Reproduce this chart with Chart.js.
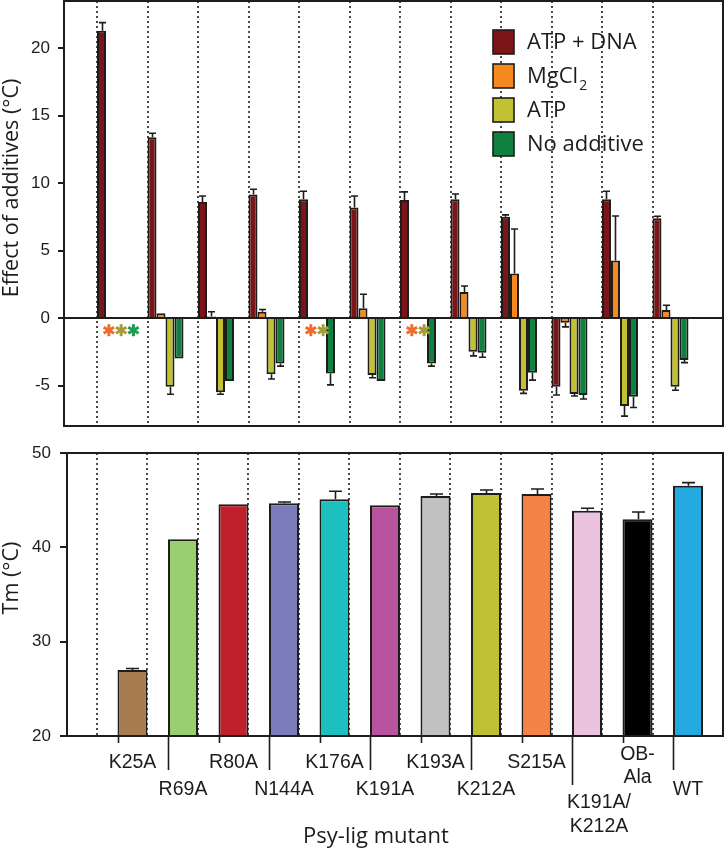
<!DOCTYPE html>
<html><head><meta charset="utf-8">
<script src="https://cdn.jsdelivr.net/npm/chart.js@4.4.1/dist/chart.umd.min.js"></script>
<style>
html,body{margin:0;padding:0;background:#fff;}
#wrap{position:relative;width:724px;height:851px;overflow:hidden;}
#c1{position:absolute;left:0;top:0;}
#c2{position:absolute;left:0;top:430px;}
</style></head><body>
<div id="wrap"><canvas id="c1" width="724" height="430"></canvas><canvas id="c2" width="724" height="421"></canvas></div>
<script>
// ---------- data ----------
const categories = ['K25A','R69A','R80A','N144A','K176A','K191A','K193A','K212A','S215A','K191A/K212A','OB-Ala','WT'];
const categoryLines = [['K25A'],['R69A'],['R80A'],['N144A'],['K176A'],['K191A'],['K193A'],['K212A'],['S215A'],['K191A/','K212A'],['OB-','Ala'],['WT']];
const seriesNames = ['ATP + DNA','MgCl\u2082','ATP','No additive'];

const atpDna     = [21.3, 13.4, 8.6, 9.15, 8.8, 8.2, 8.75, 8.8, 7.5, -5.1, 8.8, 7.4];
const atpDnaErr  = [0.6, 0.3, 0.45, 0.4, 0.6, 0.85, 0.6, 0.4, 0.15, 0.6, 0.6, 0.15];
const mgcl2      = [null, 0.35, 0.12, 0.47, null, 0.72, null, 1.93, 3.3, -0.35, 4.27, 0.6];
const mgcl2Err   = [0, 0, 0.35, 0.17, 0, 1.05, 0, 0.45, 3.3, 0.3, 3.3, 0.35];
const atp        = [null, -5.1, -5.5, -4.17, null, -4.22, null, -2.5, -5.38, -5.63, -6.52, -5.1];
const atpErr     = [0, 0.55, 0.15, 0.35, 0, 0.2, 0, 0.3, 0.2, 0.15, 0.75, 0.25];
const noAdd      = [null, -3.0, -4.67, -3.36, -4.1, -4.67, -3.36, -2.57, -4.05, -5.7, -5.83, -3.1];
const noAddErr   = [0, 0, 0, 0.2, 0.85, 0, 0.2, 0.33, 0.55, 0.3, 0.8, 0.2];
// [category index, series index] with no measurable value (asterisk)
const noDataMarks = [[0,1],[0,2],[0,3],[4,1],[4,2],[6,1],[6,2]];

const tm    = [27.0, 40.85, 44.56, 44.67, 45.1, 44.46, 45.45, 45.76, 45.66, 43.89, 42.97, 46.54];
const tmErr = [0.15, 0, 0, 0.14, 0.84, 0, 0.2, 0.32, 0.53, 0.25, 0.78, 0.32];

const effectTicks = [-5, 0, 5, 10, 15, 20];
const tmTicks = [20, 30, 40, 50];

// ---------- styles ----------
const ink = '#1d1d1b';
const seriesColors = ['#7c1518', '#f6891f', '#c1c133', '#0e8140'];
const markColors = ['#7c1518', '#f26a2e', '#a39e35', '#1e9d52'];
const mutantColors = ['#a87c50','#99cf6f','#c0202b','#7b7dbb','#1dbfbf','#b8549d','#c1c1c1','#bfc034','#f38347','#ebc3de','#000000','#25a9e1'];
const tickFont = '"Liberation Sans", Arial, sans-serif';
const titleFont = '"Open Sans", "Noto Sans", sans-serif';

const toXY = arr => arr.map((v, i) => ({x: i, y: v}));

// ---------- plugins ----------
const framePlugin = { id: 'frame', afterDatasetsDraw(chart) {
  const a = chart.chartArea, c = chart.ctx;
  c.save(); c.strokeStyle = ink; c.lineWidth = 2;
  c.strokeRect(a.left, a.top, a.right - a.left, a.bottom - a.top);
  c.restore();
}};
const dividerPlugin = { id: 'dividers', beforeDatasetsDraw(chart, args, opts) {
  const x = chart.scales.x, a = chart.chartArea, c = chart.ctx;
  c.save(); c.strokeStyle = ink; c.lineWidth = 1.6; c.setLineDash([2, 3]);
  categories.forEach((_, i) => {
    const px = Math.round(x.getPixelForValue(i + opts.offset));
    c.beginPath(); c.moveTo(px, a.top); c.lineTo(px, a.bottom); c.stroke();
  });
  c.restore();
}};
const errorPlugin = { id: 'errorBars', afterDatasetsDraw(chart, args, opts) {
  const c = chart.ctx, y = chart.scales.y;
  c.save(); c.strokeStyle = ink; c.lineWidth = 1.6;
  chart.data.datasets.forEach((ds, d) => {
    const meta = chart.getDatasetMeta(d);
    (ds.errors || []).forEach((e, i) => {
      const v = ds.data[i].y;
      if (v === null || !e) return;
      const el = meta.data[i];
      const sgn = v < 0 ? -1 : 1;
      const y0 = y.getPixelForValue(v), y1 = y.getPixelForValue(v + sgn * e);
      const px = Math.round(el.x) + 0.5;
      c.beginPath(); c.moveTo(px, y0); c.lineTo(px, y1);
      c.moveTo(px - opts.cap, y1); c.lineTo(px + opts.cap, y1); c.stroke();
    });
  });
  c.restore();
}};
const markPlugin = { id: 'marks', afterDatasetsDraw(chart) {
  const c = chart.ctx, x = chart.scales.x, y = chart.scales.y;
  c.save(); c.lineWidth = 3; c.lineCap = 'butt';
  noDataMarks.forEach(([i, s]) => {
    const groupCenter = x.getPixelForValue(i);
    const cx = groupCenter + (s - 1.5) * 12.3, cy = y.getPixelForValue(-0.9), r = 6;
    c.strokeStyle = markColors[s];
    [90, 30, -30].forEach(deg => {
      const t = deg * Math.PI / 180, dx = Math.cos(t) * r, dy = Math.sin(t) * r;
      c.beginPath(); c.moveTo(cx - dx, cy - dy); c.lineTo(cx + dx, cy + dy); c.stroke();
    });
  });
  c.restore();
}};
const legendPlugin = { id: 'boxLegend', afterDraw(chart) {
  const c = chart.ctx;
  c.save();
  chart.data.datasets.forEach((ds, k) => {
    const bx = 493, by = 30 + k * 34;
    c.fillStyle = ds.backgroundColor; c.fillRect(bx, by, 21, 24);
    c.strokeStyle = ink; c.lineWidth = 1.6; c.strokeRect(bx, by, 21, 24);
    c.fillStyle = ink; c.textAlign = 'left'; c.textBaseline = 'alphabetic';
    c.font = '22px ' + titleFont;
    let label = ds.label;
    if (label.endsWith('\u2082')) {
      const base = label.slice(0, -1);
      c.fillText(base, 527, by + 19);
      const w = c.measureText(base).width;
      c.font = '14px ' + titleFont;
      c.fillText('2', 527 + w + 1, by + 26);
    } else {
      c.fillText(label, 527, by + 19);
    }
  });
  c.restore();
}};
function yTitlePlugin(text, cx, cy) {
  return { id: 'yTitle', afterDraw(chart) {
    const c = chart.ctx; c.save();
    c.translate(cx, cy); c.rotate(-Math.PI / 2);
    c.fillStyle = ink; c.font = '21.5px ' + titleFont; c.textAlign = 'center'; c.textBaseline = 'middle';
    c.fillText(text, 0, 0); c.restore();
  }};
}
const mutantAxisPlugin = { id: 'mutantAxis', afterDraw(chart) {
  const c = chart.ctx, a = chart.chartArea, meta = chart.getDatasetMeta(0);
  c.save(); c.strokeStyle = ink; c.lineWidth = 1.6; c.fillStyle = ink;
  c.font = '19.5px ' + tickFont; c.textAlign = 'center'; c.textBaseline = 'alphabetic';
  categoryLines.forEach((lines, i) => {
    const el = meta.data[i];
    const left = Math.round(el.x - el.width / 2) + 0.5;
    const odd = i % 2 === 1, multi = lines.length > 1;
    const len = !odd ? 7 : (multi ? 49 : 34);
    c.beginPath(); c.moveTo(left, a.bottom); c.lineTo(left, a.bottom + len); c.stroke();
    let base;
    if (!odd) base = multi ? [24, 47] : [32];
    else base = multi ? [72, 96] : [59];
    const shift = (odd && multi) ? 12 : 0;
    lines.forEach((t, k) => c.fillText(t, el.x + shift, a.bottom + base[k]));
  });
  c.font = '22px ' + titleFont;
  c.fillText('Psy-lig mutant', 376, a.bottom + 107);
  c.restore();
}};

// ---------- top chart ----------
const topDatasets = [atpDna, mgcl2, atp, noAdd].map((vals, k) => ({
  label: seriesNames[k], data: toXY(vals),
  errors: [atpDnaErr, mgcl2Err, atpErr, noAddErr][k],
  backgroundColor: seriesColors[k], borderColor: ink, borderWidth: 2,
  categoryPercentage: 0.713, barPercentage: 1.0
}));

new Chart(document.getElementById('c1'), {
  type: 'bar',
  data: { datasets: topDatasets },
  options: {
    responsive: false, animation: false, devicePixelRatio: 1,
    layout: { padding: { top: 1, right: 1, bottom: 4, left: 0 } },
    plugins: { legend: { display: false }, tooltip: { enabled: false },
      dividers: { offset: -0.356 }, errorBars: { cap: 3.5 } },
    scales: {
      x: { type: 'linear', display: false, offset: false, min: -1.01, max: 12.04,
           afterBuildTicks: ax => { ax.ticks = categories.map((_, i) => ({ value: i })); } },
      y: { min: -8, max: 23.5,
           afterBuildTicks: ax => { ax.ticks = effectTicks.map(v => ({ value: v })); },
           afterFit: ax => { ax.width = 64; ax.paddingTop = 0; ax.paddingBottom = 0; },
           ticks: { font: { family: tickFont, size: 17 }, color: ink, padding: 8 },
           grid: { drawOnChartArea: true, color: c => (c.tick && c.tick.value === 0) ? ink : 'rgba(0,0,0,0)',
                   tickColor: ink, lineWidth: 2, tickLength: 6 },
           border: { display: true, color: ink, width: 2 } }
    }
  },
  plugins: [dividerPlugin, errorPlugin, markPlugin, framePlugin, legendPlugin, yTitlePlugin('Effect of additives (\u00B0C)', 12, 188)]
});

// ---------- bottom chart ----------
new Chart(document.getElementById('c2'), {
  type: 'bar',
  data: { datasets: [{ label: 'Tm', data: toXY(tm), errors: tmErr,
    backgroundColor: mutantColors, borderColor: ink, borderWidth: 2,
    categoryPercentage: 0.594, barPercentage: 1.0 }] },
  options: {
    responsive: false, animation: false, devicePixelRatio: 1,
    layout: { padding: { top: 23, right: 1, bottom: 115, left: 0 } },
    plugins: { legend: { display: false }, tooltip: { enabled: false },
      dividers: { offset: -0.703 }, errorBars: { cap: 6.5 } },
    scales: {
      x: { type: 'linear', display: false, offset: false, min: -1.297, max: 11.693,
           afterBuildTicks: ax => { ax.ticks = categories.map((_, i) => ({ value: i })); } },
      y: { min: 20, max: 50,
           afterBuildTicks: ax => { ax.ticks = tmTicks.map(v => ({ value: v })); },
           afterFit: ax => { ax.width = 67; ax.paddingTop = 0; ax.paddingBottom = 0; },
           ticks: { font: { family: tickFont, size: 17 }, color: ink, padding: 9 },
           grid: { drawOnChartArea: false, tickColor: ink, lineWidth: 2, tickLength: 7 },
           border: { display: true, color: ink, width: 2 } }
    }
  },
  plugins: [dividerPlugin, errorPlugin, framePlugin, mutantAxisPlugin, yTitlePlugin('Tm (\u00B0C)', 12, 148)]
});
</script>
</body></html>
